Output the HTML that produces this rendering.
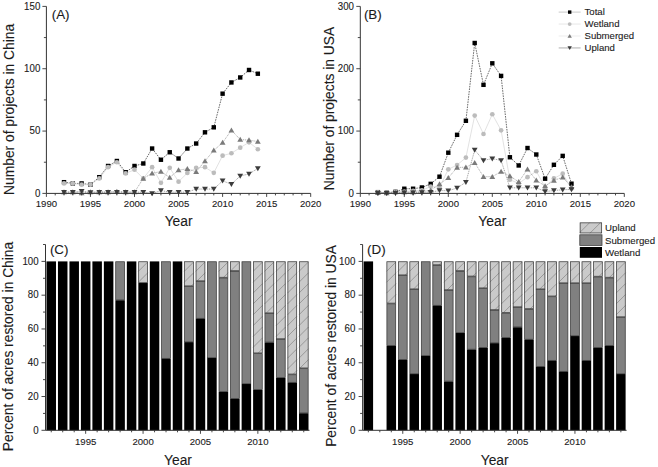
<!DOCTYPE html><html><head><meta charset="utf-8"><style>html,body{margin:0;padding:0;background:#fff;width:658px;height:467px;overflow:hidden}svg{display:block}</style></head><body>
<svg width="658" height="467" viewBox="0 0 658 467" font-family='"Liberation Sans", sans-serif' fill="#1a1a1a"><style>text{stroke:#1a1a1a;stroke-width:0.1px;stroke-linejoin:round}</style>
<rect width="658" height="467" fill="#fff"/>
<polyline points="64.02,182.18 72.83,183.43 81.64,183.43 90.45,184.67 99.26,177.19 108.07,165.97 116.88,160.99 125.69,172.21 134.50,165.97 143.31,163.48 152.12,148.52 160.93,159.74 169.74,152.26 178.55,158.49 187.36,148.52 196.17,143.53 204.98,132.31 213.79,127.33 222.60,93.67 231.41,82.45 240.22,77.46 249.03,69.98 257.84,73.72" fill="none" stroke="#2a2a2a" stroke-width="0.7" stroke-dasharray="1.6 1"/>
<polyline points="64.02,183.43 72.83,183.43 81.64,184.67 90.45,184.67 99.26,178.44 108.07,167.22 116.88,162.23 125.69,173.45 134.50,169.71 143.31,178.44 152.12,167.22 160.93,182.80 169.74,167.84 178.55,181.68 187.36,172.95 196.17,167.84 204.98,167.22 213.79,172.83 222.60,155.63 231.41,153.26 240.22,147.65 249.03,142.29 257.84,149.27" fill="none" stroke="#d6d6d6" stroke-width="0.7" stroke-dasharray="none"/>
<polyline points="64.02,192.15 72.83,192.15 81.64,193.03 90.45,192.15 99.26,192.15 108.07,192.15 116.88,191.53 125.69,192.15 134.50,192.15 143.31,178.44 152.12,173.20 160.93,171.58 169.74,177.44 178.55,170.09 187.36,168.84 196.17,171.71 204.98,160.99 213.79,150.39 222.60,142.66 231.41,130.19 240.22,139.54 249.03,140.17 257.84,141.54" fill="none" stroke="#8c8c8c" stroke-width="0.7" stroke-dasharray="1.1 0.8"/>
<polyline points="64.02,192.15 72.83,192.15 81.64,191.16 90.45,192.40 99.26,192.15 108.07,192.15 116.88,192.15 125.69,192.15 134.50,192.15 143.31,192.15 152.12,193.40 160.93,190.53 169.74,192.15 178.55,192.15 187.36,192.15 196.17,189.04 204.98,189.04 213.79,189.04 222.60,180.81 231.41,184.30 240.22,175.95 249.03,173.95 257.84,168.47" fill="none" stroke="#7a7a7a" stroke-width="0.7" stroke-dasharray="1.1 0.8"/>
<rect x="61.82" y="179.98" width="4.4" height="4.4" fill="#000"/>
<rect x="70.63" y="181.23" width="4.4" height="4.4" fill="#000"/>
<rect x="79.44" y="181.23" width="4.4" height="4.4" fill="#000"/>
<rect x="88.25" y="182.47" width="4.4" height="4.4" fill="#000"/>
<rect x="97.06" y="174.99" width="4.4" height="4.4" fill="#000"/>
<rect x="105.87" y="163.77" width="4.4" height="4.4" fill="#000"/>
<rect x="114.68" y="158.79" width="4.4" height="4.4" fill="#000"/>
<rect x="123.49" y="170.01" width="4.4" height="4.4" fill="#000"/>
<rect x="132.30" y="163.77" width="4.4" height="4.4" fill="#000"/>
<rect x="141.11" y="161.28" width="4.4" height="4.4" fill="#000"/>
<rect x="149.92" y="146.32" width="4.4" height="4.4" fill="#000"/>
<rect x="158.73" y="157.54" width="4.4" height="4.4" fill="#000"/>
<rect x="167.54" y="150.06" width="4.4" height="4.4" fill="#000"/>
<rect x="176.35" y="156.29" width="4.4" height="4.4" fill="#000"/>
<rect x="185.16" y="146.32" width="4.4" height="4.4" fill="#000"/>
<rect x="193.97" y="141.33" width="4.4" height="4.4" fill="#000"/>
<rect x="202.78" y="130.11" width="4.4" height="4.4" fill="#000"/>
<rect x="211.59" y="125.13" width="4.4" height="4.4" fill="#000"/>
<rect x="220.40" y="91.47" width="4.4" height="4.4" fill="#000"/>
<rect x="229.21" y="80.25" width="4.4" height="4.4" fill="#000"/>
<rect x="238.02" y="75.26" width="4.4" height="4.4" fill="#000"/>
<rect x="246.83" y="67.78" width="4.4" height="4.4" fill="#000"/>
<rect x="255.64" y="71.52" width="4.4" height="4.4" fill="#000"/>
<circle cx="64.02" cy="183.43" r="2.35" fill="#bcbcbc"/>
<circle cx="72.83" cy="183.43" r="2.35" fill="#bcbcbc"/>
<circle cx="81.64" cy="184.67" r="2.35" fill="#bcbcbc"/>
<circle cx="90.45" cy="184.67" r="2.35" fill="#bcbcbc"/>
<circle cx="99.26" cy="178.44" r="2.35" fill="#bcbcbc"/>
<circle cx="108.07" cy="167.22" r="2.35" fill="#bcbcbc"/>
<circle cx="116.88" cy="162.23" r="2.35" fill="#bcbcbc"/>
<circle cx="125.69" cy="173.45" r="2.35" fill="#bcbcbc"/>
<circle cx="134.50" cy="169.71" r="2.35" fill="#bcbcbc"/>
<circle cx="143.31" cy="178.44" r="2.35" fill="#bcbcbc"/>
<circle cx="152.12" cy="167.22" r="2.35" fill="#bcbcbc"/>
<circle cx="160.93" cy="182.80" r="2.35" fill="#bcbcbc"/>
<circle cx="169.74" cy="167.84" r="2.35" fill="#bcbcbc"/>
<circle cx="178.55" cy="181.68" r="2.35" fill="#bcbcbc"/>
<circle cx="187.36" cy="172.95" r="2.35" fill="#bcbcbc"/>
<circle cx="196.17" cy="167.84" r="2.35" fill="#bcbcbc"/>
<circle cx="204.98" cy="167.22" r="2.35" fill="#bcbcbc"/>
<circle cx="213.79" cy="172.83" r="2.35" fill="#bcbcbc"/>
<circle cx="222.60" cy="155.63" r="2.35" fill="#bcbcbc"/>
<circle cx="231.41" cy="153.26" r="2.35" fill="#bcbcbc"/>
<circle cx="240.22" cy="147.65" r="2.35" fill="#bcbcbc"/>
<circle cx="249.03" cy="142.29" r="2.35" fill="#bcbcbc"/>
<circle cx="257.84" cy="149.27" r="2.35" fill="#bcbcbc"/>
<path d="M61.12,194.35L66.92,194.35L64.02,189.35Z" fill="#7a7a7a"/>
<path d="M69.93,194.35L75.73,194.35L72.83,189.35Z" fill="#7a7a7a"/>
<path d="M78.74,195.23L84.54,195.23L81.64,190.23Z" fill="#7a7a7a"/>
<path d="M87.55,194.35L93.35,194.35L90.45,189.35Z" fill="#7a7a7a"/>
<path d="M96.36,194.35L102.16,194.35L99.26,189.35Z" fill="#7a7a7a"/>
<path d="M105.17,194.35L110.97,194.35L108.07,189.35Z" fill="#7a7a7a"/>
<path d="M113.98,193.73L119.78,193.73L116.88,188.73Z" fill="#7a7a7a"/>
<path d="M122.79,194.35L128.59,194.35L125.69,189.35Z" fill="#7a7a7a"/>
<path d="M131.60,194.35L137.40,194.35L134.50,189.35Z" fill="#7a7a7a"/>
<path d="M140.41,180.64L146.21,180.64L143.31,175.64Z" fill="#7a7a7a"/>
<path d="M149.22,175.40L155.02,175.40L152.12,170.40Z" fill="#7a7a7a"/>
<path d="M158.03,173.78L163.83,173.78L160.93,168.78Z" fill="#7a7a7a"/>
<path d="M166.84,179.64L172.64,179.64L169.74,174.64Z" fill="#7a7a7a"/>
<path d="M175.65,172.29L181.45,172.29L178.55,167.29Z" fill="#7a7a7a"/>
<path d="M184.46,171.04L190.26,171.04L187.36,166.04Z" fill="#7a7a7a"/>
<path d="M193.27,173.91L199.07,173.91L196.17,168.91Z" fill="#7a7a7a"/>
<path d="M202.08,163.19L207.88,163.19L204.98,158.19Z" fill="#7a7a7a"/>
<path d="M210.89,152.59L216.69,152.59L213.79,147.59Z" fill="#7a7a7a"/>
<path d="M219.70,144.86L225.50,144.86L222.60,139.86Z" fill="#7a7a7a"/>
<path d="M228.51,132.39L234.31,132.39L231.41,127.39Z" fill="#7a7a7a"/>
<path d="M237.32,141.74L243.12,141.74L240.22,136.74Z" fill="#7a7a7a"/>
<path d="M246.13,142.37L251.93,142.37L249.03,137.37Z" fill="#7a7a7a"/>
<path d="M254.94,143.74L260.74,143.74L257.84,138.74Z" fill="#7a7a7a"/>
<path d="M61.12,189.95L66.92,189.95L64.02,194.95Z" fill="#3c3c3c"/>
<path d="M69.93,189.95L75.73,189.95L72.83,194.95Z" fill="#3c3c3c"/>
<path d="M78.74,188.96L84.54,188.96L81.64,193.96Z" fill="#3c3c3c"/>
<path d="M87.55,190.20L93.35,190.20L90.45,195.20Z" fill="#3c3c3c"/>
<path d="M96.36,189.95L102.16,189.95L99.26,194.95Z" fill="#3c3c3c"/>
<path d="M105.17,189.95L110.97,189.95L108.07,194.95Z" fill="#3c3c3c"/>
<path d="M113.98,189.95L119.78,189.95L116.88,194.95Z" fill="#3c3c3c"/>
<path d="M122.79,189.95L128.59,189.95L125.69,194.95Z" fill="#3c3c3c"/>
<path d="M131.60,189.95L137.40,189.95L134.50,194.95Z" fill="#3c3c3c"/>
<path d="M140.41,189.95L146.21,189.95L143.31,194.95Z" fill="#3c3c3c"/>
<path d="M149.22,191.20L155.02,191.20L152.12,196.20Z" fill="#3c3c3c"/>
<path d="M158.03,188.33L163.83,188.33L160.93,193.33Z" fill="#3c3c3c"/>
<path d="M166.84,189.95L172.64,189.95L169.74,194.95Z" fill="#3c3c3c"/>
<path d="M175.65,189.95L181.45,189.95L178.55,194.95Z" fill="#3c3c3c"/>
<path d="M184.46,189.95L190.26,189.95L187.36,194.95Z" fill="#3c3c3c"/>
<path d="M193.27,186.84L199.07,186.84L196.17,191.84Z" fill="#3c3c3c"/>
<path d="M202.08,186.84L207.88,186.84L204.98,191.84Z" fill="#3c3c3c"/>
<path d="M210.89,186.84L216.69,186.84L213.79,191.84Z" fill="#3c3c3c"/>
<path d="M219.70,178.61L225.50,178.61L222.60,183.61Z" fill="#3c3c3c"/>
<path d="M228.51,182.10L234.31,182.10L231.41,187.10Z" fill="#3c3c3c"/>
<path d="M237.32,173.75L243.12,173.75L240.22,178.75Z" fill="#3c3c3c"/>
<path d="M246.13,171.75L251.93,171.75L249.03,176.75Z" fill="#3c3c3c"/>
<path d="M254.94,166.27L260.74,166.27L257.84,171.27Z" fill="#3c3c3c"/>
<path d="M46.4,6.4V193.4H310.7" fill="none" stroke="#333" stroke-width="1"/>
<line x1="42.4" y1="193.40" x2="46.4" y2="193.40" stroke="#333" stroke-width="0.9"/>
<text transform="translate(40.3,196.60) scale(1,1.06)" text-anchor="end" font-size="9.7">0</text>
<line x1="43.9" y1="162.23" x2="46.4" y2="162.23" stroke="#333" stroke-width="0.9"/>
<line x1="42.4" y1="131.07" x2="46.4" y2="131.07" stroke="#333" stroke-width="0.9"/>
<text transform="translate(40.3,134.27) scale(1,1.06)" text-anchor="end" font-size="9.7">50</text>
<line x1="43.9" y1="99.90" x2="46.4" y2="99.90" stroke="#333" stroke-width="0.9"/>
<line x1="42.4" y1="68.73" x2="46.4" y2="68.73" stroke="#333" stroke-width="0.9"/>
<text transform="translate(40.3,71.93) scale(1,1.06)" text-anchor="end" font-size="9.7">100</text>
<line x1="43.9" y1="37.57" x2="46.4" y2="37.57" stroke="#333" stroke-width="0.9"/>
<line x1="42.4" y1="6.40" x2="46.4" y2="6.40" stroke="#333" stroke-width="0.9"/>
<text transform="translate(40.3,9.60) scale(1,1.06)" text-anchor="end" font-size="9.7">150</text>
<line x1="46.40" y1="193.4" x2="46.40" y2="196.9" stroke="#333" stroke-width="0.9"/>
<text transform="translate(46.40,207.4) scale(1,1.0)" text-anchor="middle" font-size="9.6">1990</text>
<line x1="55.21" y1="193.4" x2="55.21" y2="195.4" stroke="#333" stroke-width="0.9"/>
<line x1="64.02" y1="193.4" x2="64.02" y2="195.4" stroke="#333" stroke-width="0.9"/>
<line x1="72.83" y1="193.4" x2="72.83" y2="195.4" stroke="#333" stroke-width="0.9"/>
<line x1="81.64" y1="193.4" x2="81.64" y2="195.4" stroke="#333" stroke-width="0.9"/>
<line x1="90.45" y1="193.4" x2="90.45" y2="196.9" stroke="#333" stroke-width="0.9"/>
<text transform="translate(90.45,207.4) scale(1,1.0)" text-anchor="middle" font-size="9.6">1995</text>
<line x1="99.26" y1="193.4" x2="99.26" y2="195.4" stroke="#333" stroke-width="0.9"/>
<line x1="108.07" y1="193.4" x2="108.07" y2="195.4" stroke="#333" stroke-width="0.9"/>
<line x1="116.88" y1="193.4" x2="116.88" y2="195.4" stroke="#333" stroke-width="0.9"/>
<line x1="125.69" y1="193.4" x2="125.69" y2="195.4" stroke="#333" stroke-width="0.9"/>
<line x1="134.50" y1="193.4" x2="134.50" y2="196.9" stroke="#333" stroke-width="0.9"/>
<text transform="translate(134.50,207.4) scale(1,1.0)" text-anchor="middle" font-size="9.6">2000</text>
<line x1="143.31" y1="193.4" x2="143.31" y2="195.4" stroke="#333" stroke-width="0.9"/>
<line x1="152.12" y1="193.4" x2="152.12" y2="195.4" stroke="#333" stroke-width="0.9"/>
<line x1="160.93" y1="193.4" x2="160.93" y2="195.4" stroke="#333" stroke-width="0.9"/>
<line x1="169.74" y1="193.4" x2="169.74" y2="195.4" stroke="#333" stroke-width="0.9"/>
<line x1="178.55" y1="193.4" x2="178.55" y2="196.9" stroke="#333" stroke-width="0.9"/>
<text transform="translate(178.55,207.4) scale(1,1.0)" text-anchor="middle" font-size="9.6">2005</text>
<line x1="187.36" y1="193.4" x2="187.36" y2="195.4" stroke="#333" stroke-width="0.9"/>
<line x1="196.17" y1="193.4" x2="196.17" y2="195.4" stroke="#333" stroke-width="0.9"/>
<line x1="204.98" y1="193.4" x2="204.98" y2="195.4" stroke="#333" stroke-width="0.9"/>
<line x1="213.79" y1="193.4" x2="213.79" y2="195.4" stroke="#333" stroke-width="0.9"/>
<line x1="222.60" y1="193.4" x2="222.60" y2="196.9" stroke="#333" stroke-width="0.9"/>
<text transform="translate(222.60,207.4) scale(1,1.0)" text-anchor="middle" font-size="9.6">2010</text>
<line x1="231.41" y1="193.4" x2="231.41" y2="195.4" stroke="#333" stroke-width="0.9"/>
<line x1="240.22" y1="193.4" x2="240.22" y2="195.4" stroke="#333" stroke-width="0.9"/>
<line x1="249.03" y1="193.4" x2="249.03" y2="195.4" stroke="#333" stroke-width="0.9"/>
<line x1="257.84" y1="193.4" x2="257.84" y2="195.4" stroke="#333" stroke-width="0.9"/>
<line x1="266.65" y1="193.4" x2="266.65" y2="196.9" stroke="#333" stroke-width="0.9"/>
<text transform="translate(266.65,207.4) scale(1,1.0)" text-anchor="middle" font-size="9.6">2015</text>
<line x1="275.46" y1="193.4" x2="275.46" y2="195.4" stroke="#333" stroke-width="0.9"/>
<line x1="284.27" y1="193.4" x2="284.27" y2="195.4" stroke="#333" stroke-width="0.9"/>
<line x1="293.08" y1="193.4" x2="293.08" y2="195.4" stroke="#333" stroke-width="0.9"/>
<line x1="301.89" y1="193.4" x2="301.89" y2="195.4" stroke="#333" stroke-width="0.9"/>
<line x1="310.70" y1="193.4" x2="310.70" y2="196.9" stroke="#333" stroke-width="0.9"/>
<text transform="translate(310.70,207.4) scale(1,1.0)" text-anchor="middle" font-size="9.6">2020</text>
<text x="178.6" y="226" text-anchor="middle" font-size="13.8">Year</text>
<text x="51.699999999999996" y="19" font-size="13.4">(A)</text>
<text transform="translate(14.1,109.4) rotate(-90)" text-anchor="middle" font-size="13.8">Number of projects in China</text>
<polyline points="377.90,192.15 386.70,192.78 395.50,191.84 404.30,188.72 413.10,188.72 421.90,187.48 430.70,183.86 439.50,176.69 448.30,152.70 457.10,134.81 465.90,120.78 474.70,42.99 483.50,84.82 492.30,63.31 501.10,75.90 509.90,157.25 518.70,165.47 527.50,148.02 536.30,154.50 545.10,178.69 553.90,164.79 562.70,155.88 571.50,183.68" fill="none" stroke="#2a2a2a" stroke-width="0.7" stroke-dasharray="1.6 1"/>
<polyline points="377.90,192.28 386.70,192.78 395.50,192.03 404.30,191.53 413.10,190.91 421.90,190.28 430.70,186.54 439.50,187.42 448.30,169.28 457.10,165.04 465.90,157.62 474.70,115.61 483.50,134.00 492.30,114.24 501.10,130.32 509.90,179.69 518.70,183.43 527.50,177.19 536.30,171.27 545.10,187.17 553.90,178.44 562.70,173.70 571.50,188.41" fill="none" stroke="#d6d6d6" stroke-width="0.7" stroke-dasharray="none"/>
<polyline points="377.90,192.78 386.70,193.09 395.50,192.15 404.30,192.15 413.10,192.15 421.90,191.53 430.70,190.28 439.50,184.05 448.30,177.82 457.10,167.47 465.90,167.22 474.70,162.73 483.50,176.69 492.30,176.69 501.10,171.58 509.90,176.01 518.70,181.87 527.50,169.21 536.30,180.31 545.10,185.98 553.90,180.50 562.70,177.19 571.50,187.17" fill="none" stroke="#8c8c8c" stroke-width="0.7" stroke-dasharray="1.1 0.8"/>
<polyline points="377.90,193.09 386.70,193.21 395.50,193.09 404.30,192.78 413.10,192.78 421.90,192.47 430.70,192.15 439.50,190.53 448.30,190.78 457.10,187.98 465.90,182.18 474.70,150.02 483.50,160.36 492.30,158.62 501.10,160.36 509.90,187.79 518.70,187.79 527.50,187.79 536.30,187.79 545.10,191.53 553.90,190.53 562.70,189.78 571.50,189.41" fill="none" stroke="#7a7a7a" stroke-width="0.7" stroke-dasharray="1.1 0.8"/>
<rect x="375.70" y="189.95" width="4.4" height="4.4" fill="#000"/>
<rect x="384.50" y="190.58" width="4.4" height="4.4" fill="#000"/>
<rect x="393.30" y="189.64" width="4.4" height="4.4" fill="#000"/>
<rect x="402.10" y="186.53" width="4.4" height="4.4" fill="#000"/>
<rect x="410.90" y="186.53" width="4.4" height="4.4" fill="#000"/>
<rect x="419.70" y="185.28" width="4.4" height="4.4" fill="#000"/>
<rect x="428.50" y="181.66" width="4.4" height="4.4" fill="#000"/>
<rect x="437.30" y="174.49" width="4.4" height="4.4" fill="#000"/>
<rect x="446.10" y="150.50" width="4.4" height="4.4" fill="#000"/>
<rect x="454.90" y="132.61" width="4.4" height="4.4" fill="#000"/>
<rect x="463.70" y="118.58" width="4.4" height="4.4" fill="#000"/>
<rect x="472.50" y="40.79" width="4.4" height="4.4" fill="#000"/>
<rect x="481.30" y="82.62" width="4.4" height="4.4" fill="#000"/>
<rect x="490.10" y="61.11" width="4.4" height="4.4" fill="#000"/>
<rect x="498.90" y="73.70" width="4.4" height="4.4" fill="#000"/>
<rect x="507.70" y="155.05" width="4.4" height="4.4" fill="#000"/>
<rect x="516.50" y="163.27" width="4.4" height="4.4" fill="#000"/>
<rect x="525.30" y="145.82" width="4.4" height="4.4" fill="#000"/>
<rect x="534.10" y="152.30" width="4.4" height="4.4" fill="#000"/>
<rect x="542.90" y="176.49" width="4.4" height="4.4" fill="#000"/>
<rect x="551.70" y="162.59" width="4.4" height="4.4" fill="#000"/>
<rect x="560.50" y="153.68" width="4.4" height="4.4" fill="#000"/>
<rect x="569.30" y="181.48" width="4.4" height="4.4" fill="#000"/>
<circle cx="377.90" cy="192.28" r="2.35" fill="#bcbcbc"/>
<circle cx="386.70" cy="192.78" r="2.35" fill="#bcbcbc"/>
<circle cx="395.50" cy="192.03" r="2.35" fill="#bcbcbc"/>
<circle cx="404.30" cy="191.53" r="2.35" fill="#bcbcbc"/>
<circle cx="413.10" cy="190.91" r="2.35" fill="#bcbcbc"/>
<circle cx="421.90" cy="190.28" r="2.35" fill="#bcbcbc"/>
<circle cx="430.70" cy="186.54" r="2.35" fill="#bcbcbc"/>
<circle cx="439.50" cy="187.42" r="2.35" fill="#bcbcbc"/>
<circle cx="448.30" cy="169.28" r="2.35" fill="#bcbcbc"/>
<circle cx="457.10" cy="165.04" r="2.35" fill="#bcbcbc"/>
<circle cx="465.90" cy="157.62" r="2.35" fill="#bcbcbc"/>
<circle cx="474.70" cy="115.61" r="2.35" fill="#bcbcbc"/>
<circle cx="483.50" cy="134.00" r="2.35" fill="#bcbcbc"/>
<circle cx="492.30" cy="114.24" r="2.35" fill="#bcbcbc"/>
<circle cx="501.10" cy="130.32" r="2.35" fill="#bcbcbc"/>
<circle cx="509.90" cy="179.69" r="2.35" fill="#bcbcbc"/>
<circle cx="518.70" cy="183.43" r="2.35" fill="#bcbcbc"/>
<circle cx="527.50" cy="177.19" r="2.35" fill="#bcbcbc"/>
<circle cx="536.30" cy="171.27" r="2.35" fill="#bcbcbc"/>
<circle cx="545.10" cy="187.17" r="2.35" fill="#bcbcbc"/>
<circle cx="553.90" cy="178.44" r="2.35" fill="#bcbcbc"/>
<circle cx="562.70" cy="173.70" r="2.35" fill="#bcbcbc"/>
<circle cx="571.50" cy="188.41" r="2.35" fill="#bcbcbc"/>
<path d="M375.00,194.98L380.80,194.98L377.90,189.98Z" fill="#7a7a7a"/>
<path d="M383.80,195.29L389.60,195.29L386.70,190.29Z" fill="#7a7a7a"/>
<path d="M392.60,194.35L398.40,194.35L395.50,189.35Z" fill="#7a7a7a"/>
<path d="M401.40,194.35L407.20,194.35L404.30,189.35Z" fill="#7a7a7a"/>
<path d="M410.20,194.35L416.00,194.35L413.10,189.35Z" fill="#7a7a7a"/>
<path d="M419.00,193.73L424.80,193.73L421.90,188.73Z" fill="#7a7a7a"/>
<path d="M427.80,192.48L433.60,192.48L430.70,187.48Z" fill="#7a7a7a"/>
<path d="M436.60,186.25L442.40,186.25L439.50,181.25Z" fill="#7a7a7a"/>
<path d="M445.40,180.02L451.20,180.02L448.30,175.02Z" fill="#7a7a7a"/>
<path d="M454.20,169.67L460.00,169.67L457.10,164.67Z" fill="#7a7a7a"/>
<path d="M463.00,169.42L468.80,169.42L465.90,164.42Z" fill="#7a7a7a"/>
<path d="M471.80,164.93L477.60,164.93L474.70,159.93Z" fill="#7a7a7a"/>
<path d="M480.60,178.89L486.40,178.89L483.50,173.89Z" fill="#7a7a7a"/>
<path d="M489.40,178.89L495.20,178.89L492.30,173.89Z" fill="#7a7a7a"/>
<path d="M498.20,173.78L504.00,173.78L501.10,168.78Z" fill="#7a7a7a"/>
<path d="M507.00,178.21L512.80,178.21L509.90,173.21Z" fill="#7a7a7a"/>
<path d="M515.80,184.07L521.60,184.07L518.70,179.07Z" fill="#7a7a7a"/>
<path d="M524.60,171.41L530.40,171.41L527.50,166.41Z" fill="#7a7a7a"/>
<path d="M533.40,182.51L539.20,182.51L536.30,177.51Z" fill="#7a7a7a"/>
<path d="M542.20,188.18L548.00,188.18L545.10,183.18Z" fill="#7a7a7a"/>
<path d="M551.00,182.70L556.80,182.70L553.90,177.70Z" fill="#7a7a7a"/>
<path d="M559.80,179.39L565.60,179.39L562.70,174.39Z" fill="#7a7a7a"/>
<path d="M568.60,189.37L574.40,189.37L571.50,184.37Z" fill="#7a7a7a"/>
<path d="M375.00,190.89L380.80,190.89L377.90,195.89Z" fill="#3c3c3c"/>
<path d="M383.80,191.01L389.60,191.01L386.70,196.01Z" fill="#3c3c3c"/>
<path d="M392.60,190.89L398.40,190.89L395.50,195.89Z" fill="#3c3c3c"/>
<path d="M401.40,190.58L407.20,190.58L404.30,195.58Z" fill="#3c3c3c"/>
<path d="M410.20,190.58L416.00,190.58L413.10,195.58Z" fill="#3c3c3c"/>
<path d="M419.00,190.27L424.80,190.27L421.90,195.27Z" fill="#3c3c3c"/>
<path d="M427.80,189.95L433.60,189.95L430.70,194.95Z" fill="#3c3c3c"/>
<path d="M436.60,188.33L442.40,188.33L439.50,193.33Z" fill="#3c3c3c"/>
<path d="M445.40,188.58L451.20,188.58L448.30,193.58Z" fill="#3c3c3c"/>
<path d="M454.20,185.78L460.00,185.78L457.10,190.78Z" fill="#3c3c3c"/>
<path d="M463.00,179.98L468.80,179.98L465.90,184.98Z" fill="#3c3c3c"/>
<path d="M471.80,147.82L477.60,147.82L474.70,152.82Z" fill="#3c3c3c"/>
<path d="M480.60,158.16L486.40,158.16L483.50,163.16Z" fill="#3c3c3c"/>
<path d="M489.40,156.42L495.20,156.42L492.30,161.42Z" fill="#3c3c3c"/>
<path d="M498.20,158.16L504.00,158.16L501.10,163.16Z" fill="#3c3c3c"/>
<path d="M507.00,185.59L512.80,185.59L509.90,190.59Z" fill="#3c3c3c"/>
<path d="M515.80,185.59L521.60,185.59L518.70,190.59Z" fill="#3c3c3c"/>
<path d="M524.60,185.59L530.40,185.59L527.50,190.59Z" fill="#3c3c3c"/>
<path d="M533.40,185.59L539.20,185.59L536.30,190.59Z" fill="#3c3c3c"/>
<path d="M542.20,189.33L548.00,189.33L545.10,194.33Z" fill="#3c3c3c"/>
<path d="M551.00,188.33L556.80,188.33L553.90,193.33Z" fill="#3c3c3c"/>
<path d="M559.80,187.58L565.60,187.58L562.70,192.58Z" fill="#3c3c3c"/>
<path d="M568.60,187.21L574.40,187.21L571.50,192.21Z" fill="#3c3c3c"/>
<path d="M360.3,6.4V193.4H624.3" fill="none" stroke="#333" stroke-width="1"/>
<line x1="356.3" y1="193.40" x2="360.3" y2="193.40" stroke="#333" stroke-width="0.9"/>
<text transform="translate(354.0,196.60) scale(1,1.06)" text-anchor="end" font-size="9.7">0</text>
<line x1="357.8" y1="162.23" x2="360.3" y2="162.23" stroke="#333" stroke-width="0.9"/>
<line x1="356.3" y1="131.07" x2="360.3" y2="131.07" stroke="#333" stroke-width="0.9"/>
<text transform="translate(354.0,134.27) scale(1,1.06)" text-anchor="end" font-size="9.7">100</text>
<line x1="357.8" y1="99.90" x2="360.3" y2="99.90" stroke="#333" stroke-width="0.9"/>
<line x1="356.3" y1="68.73" x2="360.3" y2="68.73" stroke="#333" stroke-width="0.9"/>
<text transform="translate(354.0,71.93) scale(1,1.06)" text-anchor="end" font-size="9.7">200</text>
<line x1="357.8" y1="37.57" x2="360.3" y2="37.57" stroke="#333" stroke-width="0.9"/>
<line x1="356.3" y1="6.40" x2="360.3" y2="6.40" stroke="#333" stroke-width="0.9"/>
<text transform="translate(354.0,9.60) scale(1,1.06)" text-anchor="end" font-size="9.7">300</text>
<line x1="360.30" y1="193.4" x2="360.30" y2="196.9" stroke="#333" stroke-width="0.9"/>
<text transform="translate(360.30,207.4) scale(1,1.0)" text-anchor="middle" font-size="9.6">1990</text>
<line x1="369.10" y1="193.4" x2="369.10" y2="195.4" stroke="#333" stroke-width="0.9"/>
<line x1="377.90" y1="193.4" x2="377.90" y2="195.4" stroke="#333" stroke-width="0.9"/>
<line x1="386.70" y1="193.4" x2="386.70" y2="195.4" stroke="#333" stroke-width="0.9"/>
<line x1="395.50" y1="193.4" x2="395.50" y2="195.4" stroke="#333" stroke-width="0.9"/>
<line x1="404.30" y1="193.4" x2="404.30" y2="196.9" stroke="#333" stroke-width="0.9"/>
<text transform="translate(404.30,207.4) scale(1,1.0)" text-anchor="middle" font-size="9.6">1995</text>
<line x1="413.10" y1="193.4" x2="413.10" y2="195.4" stroke="#333" stroke-width="0.9"/>
<line x1="421.90" y1="193.4" x2="421.90" y2="195.4" stroke="#333" stroke-width="0.9"/>
<line x1="430.70" y1="193.4" x2="430.70" y2="195.4" stroke="#333" stroke-width="0.9"/>
<line x1="439.50" y1="193.4" x2="439.50" y2="195.4" stroke="#333" stroke-width="0.9"/>
<line x1="448.30" y1="193.4" x2="448.30" y2="196.9" stroke="#333" stroke-width="0.9"/>
<text transform="translate(448.30,207.4) scale(1,1.0)" text-anchor="middle" font-size="9.6">2000</text>
<line x1="457.10" y1="193.4" x2="457.10" y2="195.4" stroke="#333" stroke-width="0.9"/>
<line x1="465.90" y1="193.4" x2="465.90" y2="195.4" stroke="#333" stroke-width="0.9"/>
<line x1="474.70" y1="193.4" x2="474.70" y2="195.4" stroke="#333" stroke-width="0.9"/>
<line x1="483.50" y1="193.4" x2="483.50" y2="195.4" stroke="#333" stroke-width="0.9"/>
<line x1="492.30" y1="193.4" x2="492.30" y2="196.9" stroke="#333" stroke-width="0.9"/>
<text transform="translate(492.30,207.4) scale(1,1.0)" text-anchor="middle" font-size="9.6">2005</text>
<line x1="501.10" y1="193.4" x2="501.10" y2="195.4" stroke="#333" stroke-width="0.9"/>
<line x1="509.90" y1="193.4" x2="509.90" y2="195.4" stroke="#333" stroke-width="0.9"/>
<line x1="518.70" y1="193.4" x2="518.70" y2="195.4" stroke="#333" stroke-width="0.9"/>
<line x1="527.50" y1="193.4" x2="527.50" y2="195.4" stroke="#333" stroke-width="0.9"/>
<line x1="536.30" y1="193.4" x2="536.30" y2="196.9" stroke="#333" stroke-width="0.9"/>
<text transform="translate(536.30,207.4) scale(1,1.0)" text-anchor="middle" font-size="9.6">2010</text>
<line x1="545.10" y1="193.4" x2="545.10" y2="195.4" stroke="#333" stroke-width="0.9"/>
<line x1="553.90" y1="193.4" x2="553.90" y2="195.4" stroke="#333" stroke-width="0.9"/>
<line x1="562.70" y1="193.4" x2="562.70" y2="195.4" stroke="#333" stroke-width="0.9"/>
<line x1="571.50" y1="193.4" x2="571.50" y2="195.4" stroke="#333" stroke-width="0.9"/>
<line x1="580.30" y1="193.4" x2="580.30" y2="196.9" stroke="#333" stroke-width="0.9"/>
<text transform="translate(580.30,207.4) scale(1,1.0)" text-anchor="middle" font-size="9.6">2015</text>
<line x1="589.10" y1="193.4" x2="589.10" y2="195.4" stroke="#333" stroke-width="0.9"/>
<line x1="597.90" y1="193.4" x2="597.90" y2="195.4" stroke="#333" stroke-width="0.9"/>
<line x1="606.70" y1="193.4" x2="606.70" y2="195.4" stroke="#333" stroke-width="0.9"/>
<line x1="615.50" y1="193.4" x2="615.50" y2="195.4" stroke="#333" stroke-width="0.9"/>
<line x1="624.30" y1="193.4" x2="624.30" y2="196.9" stroke="#333" stroke-width="0.9"/>
<text transform="translate(624.30,207.4) scale(1,1.0)" text-anchor="middle" font-size="9.6">2020</text>
<text x="492.3" y="226" text-anchor="middle" font-size="13.8">Year</text>
<text x="363.90000000000003" y="19" font-size="13.4">(B)</text>
<text transform="translate(333.7,108.5) rotate(-90)" text-anchor="middle" font-size="13.8">Number of projects in USA</text>
<line x1="558.7" y1="12.10" x2="580.6" y2="12.10" stroke="#bbb" stroke-width="0.8"/>
<rect x="568.0" y="10.40" width="3.4" height="3.4" fill="#000"/>
<text x="584.5" y="15.00" font-size="9.6">Total</text>
<line x1="558.7" y1="24.05" x2="580.6" y2="24.05" stroke="#e0e0e0" stroke-width="0.8"/>
<circle cx="569.7" cy="24.05" r="1.9" fill="#bdbdbd"/>
<text x="584.5" y="26.95" font-size="9.6">Wetland</text>
<line x1="558.7" y1="36.00" x2="580.6" y2="36.00" stroke="#e8e8e8" stroke-width="0.8"/>
<path d="M567.5,37.70L571.9000000000001,37.70L569.7,33.90Z" fill="#7d7d7d"/>
<text x="584.5" y="38.90" font-size="9.6">Submerged</text>
<line x1="558.7" y1="47.95" x2="580.6" y2="47.95" stroke="#999" stroke-width="0.8"/>
<path d="M567.5,46.25L571.9000000000001,46.25L569.7,50.05Z" fill="#3c3c3c"/>
<text x="584.5" y="50.85" font-size="9.6">Upland</text>
<rect x="46.49" y="261.40" width="9.5" height="168.90" fill="#000"/>
<rect x="57.97" y="261.40" width="9.5" height="168.90" fill="#000"/>
<rect x="69.45" y="261.40" width="9.5" height="168.90" fill="#000"/>
<rect x="80.92" y="261.40" width="9.5" height="168.90" fill="#000"/>
<rect x="92.40" y="261.40" width="9.5" height="168.90" fill="#000"/>
<rect x="103.88" y="261.40" width="9.5" height="168.90" fill="#000"/>
<rect x="115.71" y="261.75" width="8.80" height="38.15" fill="#808080" stroke="#383838" stroke-width="0.75"/>
<rect x="115.36" y="300.25" width="9.5" height="130.05" fill="#000"/>
<rect x="126.84" y="261.40" width="9.5" height="168.90" fill="#000"/>
<rect x="138.32" y="261.40" width="9.50" height="21.62" fill="#cacaca"/><path d="M138.32,271.40L147.82,261.90M138.32,282.25L147.82,272.75" stroke="#666" stroke-width="0.5" fill="none"/><rect x="138.67" y="261.75" width="8.80" height="20.92" fill="none" stroke="#404040" stroke-width="0.75"/>
<rect x="138.32" y="283.02" width="9.5" height="147.28" fill="#000"/>
<rect x="149.79" y="261.40" width="9.5" height="168.90" fill="#000"/>
<rect x="161.62" y="261.75" width="8.80" height="96.59" fill="#808080" stroke="#383838" stroke-width="0.75"/>
<rect x="161.27" y="358.69" width="9.5" height="71.61" fill="#000"/>
<rect x="172.75" y="261.40" width="9.5" height="168.90" fill="#000"/>
<rect x="184.23" y="261.40" width="9.50" height="24.83" fill="#cacaca"/><path d="M184.23,271.40L193.73,261.90M184.23,282.25L193.73,272.75M191.10,286.23L193.73,283.60" stroke="#666" stroke-width="0.5" fill="none"/><rect x="184.58" y="261.75" width="8.80" height="24.13" fill="none" stroke="#404040" stroke-width="0.75"/>
<rect x="184.58" y="286.58" width="8.80" height="55.21" fill="#808080" stroke="#383838" stroke-width="0.75"/>
<rect x="184.23" y="342.13" width="9.5" height="88.17" fill="#000"/>
<rect x="195.71" y="261.40" width="9.50" height="19.76" fill="#cacaca"/><path d="M195.71,271.40L205.21,261.90M196.80,281.16L205.21,272.75" stroke="#666" stroke-width="0.5" fill="none"/><rect x="196.06" y="261.75" width="8.80" height="19.06" fill="none" stroke="#404040" stroke-width="0.75"/>
<rect x="196.06" y="281.51" width="8.80" height="36.80" fill="#808080" stroke="#383838" stroke-width="0.75"/>
<rect x="195.71" y="318.66" width="9.5" height="111.64" fill="#000"/>
<rect x="207.53" y="261.75" width="8.80" height="95.91" fill="#808080" stroke="#383838" stroke-width="0.75"/>
<rect x="207.18" y="358.01" width="9.5" height="72.29" fill="#000"/>
<rect x="218.66" y="261.40" width="9.50" height="16.21" fill="#cacaca"/><path d="M218.66,271.40L228.16,261.90M223.30,277.61L228.16,272.75" stroke="#666" stroke-width="0.5" fill="none"/><rect x="219.01" y="261.75" width="8.80" height="15.51" fill="none" stroke="#404040" stroke-width="0.75"/>
<rect x="219.01" y="277.96" width="8.80" height="113.65" fill="#808080" stroke="#383838" stroke-width="0.75"/>
<rect x="218.66" y="391.96" width="9.5" height="38.34" fill="#000"/>
<rect x="230.14" y="261.40" width="9.50" height="9.63" fill="#cacaca"/><path d="M230.51,271.03L239.64,261.90" stroke="#666" stroke-width="0.5" fill="none"/><rect x="230.49" y="261.75" width="8.80" height="8.93" fill="none" stroke="#404040" stroke-width="0.75"/>
<rect x="230.49" y="271.38" width="8.80" height="127.16" fill="#808080" stroke="#383838" stroke-width="0.75"/>
<rect x="230.14" y="398.88" width="9.5" height="31.42" fill="#000"/>
<rect x="241.97" y="261.75" width="8.80" height="121.92" fill="#808080" stroke="#383838" stroke-width="0.75"/>
<rect x="241.62" y="384.02" width="9.5" height="46.28" fill="#000"/>
<rect x="253.10" y="261.40" width="9.50" height="91.88" fill="#cacaca"/><path d="M253.10,271.40L262.60,261.90M253.10,282.25L262.60,272.75M253.10,293.10L262.60,283.60M253.10,303.95L262.60,294.45M253.10,314.80L262.60,305.30M253.10,325.65L262.60,316.15M253.10,336.50L262.60,327.00M253.10,347.35L262.60,337.85M258.02,353.28L262.60,348.70" stroke="#666" stroke-width="0.5" fill="none"/><rect x="253.45" y="261.75" width="8.80" height="91.18" fill="none" stroke="#404040" stroke-width="0.75"/>
<rect x="253.45" y="353.63" width="8.80" height="35.95" fill="#808080" stroke="#383838" stroke-width="0.75"/>
<rect x="253.10" y="389.93" width="9.5" height="40.37" fill="#000"/>
<rect x="264.58" y="261.40" width="9.50" height="51.85" fill="#cacaca"/><path d="M264.58,271.40L274.08,261.90M264.58,282.25L274.08,272.75M264.58,293.10L274.08,283.60M264.58,303.95L274.08,294.45M266.12,313.25L274.08,305.30" stroke="#666" stroke-width="0.5" fill="none"/><rect x="264.93" y="261.75" width="8.80" height="51.15" fill="none" stroke="#404040" stroke-width="0.75"/>
<rect x="264.93" y="313.60" width="8.80" height="28.52" fill="#808080" stroke="#383838" stroke-width="0.75"/>
<rect x="264.58" y="342.47" width="9.5" height="87.83" fill="#000"/>
<rect x="276.05" y="261.40" width="9.50" height="77.69" fill="#cacaca"/><path d="M276.05,271.40L285.55,261.90M276.05,282.25L285.55,272.75M276.05,293.10L285.55,283.60M276.05,303.95L285.55,294.45M276.05,314.80L285.55,305.30M276.05,325.65L285.55,316.15M276.05,336.50L285.55,327.00M284.31,339.09L285.55,337.85" stroke="#666" stroke-width="0.5" fill="none"/><rect x="276.40" y="261.75" width="8.80" height="76.99" fill="none" stroke="#404040" stroke-width="0.75"/>
<rect x="276.40" y="339.44" width="8.80" height="38.15" fill="#808080" stroke="#383838" stroke-width="0.75"/>
<rect x="276.05" y="377.94" width="9.5" height="52.36" fill="#000"/>
<rect x="287.53" y="261.40" width="9.50" height="112.99" fill="#cacaca"/><path d="M287.53,271.40L297.03,261.90M287.53,282.25L297.03,272.75M287.53,293.10L297.03,283.60M287.53,303.95L297.03,294.45M287.53,314.80L297.03,305.30M287.53,325.65L297.03,316.15M287.53,336.50L297.03,327.00M287.53,347.35L297.03,337.85M287.53,358.20L297.03,348.70M287.53,369.05L297.03,359.55M293.04,374.39L297.03,370.40" stroke="#666" stroke-width="0.5" fill="none"/><rect x="287.88" y="261.75" width="8.80" height="112.29" fill="none" stroke="#404040" stroke-width="0.75"/>
<rect x="287.88" y="374.74" width="8.80" height="7.58" fill="#808080" stroke="#383838" stroke-width="0.75"/>
<rect x="287.53" y="382.67" width="9.5" height="47.63" fill="#000"/>
<rect x="299.01" y="261.40" width="9.50" height="106.91" fill="#cacaca"/><path d="M299.01,271.40L308.51,261.90M299.01,282.25L308.51,272.75M299.01,293.10L308.51,283.60M299.01,303.95L308.51,294.45M299.01,314.80L308.51,305.30M299.01,325.65L308.51,316.15M299.01,336.50L308.51,327.00M299.01,347.35L308.51,337.85M299.01,358.20L308.51,348.70M299.75,368.31L308.51,359.55" stroke="#666" stroke-width="0.5" fill="none"/><rect x="299.36" y="261.75" width="8.80" height="106.21" fill="none" stroke="#404040" stroke-width="0.75"/>
<rect x="299.36" y="368.66" width="8.80" height="44.23" fill="#808080" stroke="#383838" stroke-width="0.75"/>
<rect x="299.01" y="413.24" width="9.5" height="17.06" fill="#000"/>
<path d="M45.5,244.51V430.3H309.5" fill="none" stroke="#333" stroke-width="1"/>
<line x1="41.5" y1="430.30" x2="45.5" y2="430.30" stroke="#333" stroke-width="0.9"/>
<text transform="translate(38.6,433.50) scale(1,1.06)" text-anchor="end" font-size="9.7">0</text>
<line x1="43.0" y1="413.41" x2="45.5" y2="413.41" stroke="#333" stroke-width="0.9"/>
<line x1="41.5" y1="396.52" x2="45.5" y2="396.52" stroke="#333" stroke-width="0.9"/>
<text transform="translate(38.6,399.72) scale(1,1.06)" text-anchor="end" font-size="9.7">20</text>
<line x1="43.0" y1="379.63" x2="45.5" y2="379.63" stroke="#333" stroke-width="0.9"/>
<line x1="41.5" y1="362.74" x2="45.5" y2="362.74" stroke="#333" stroke-width="0.9"/>
<text transform="translate(38.6,365.94) scale(1,1.06)" text-anchor="end" font-size="9.7">40</text>
<line x1="43.0" y1="345.85" x2="45.5" y2="345.85" stroke="#333" stroke-width="0.9"/>
<line x1="41.5" y1="328.96" x2="45.5" y2="328.96" stroke="#333" stroke-width="0.9"/>
<text transform="translate(38.6,332.16) scale(1,1.06)" text-anchor="end" font-size="9.7">60</text>
<line x1="43.0" y1="312.07" x2="45.5" y2="312.07" stroke="#333" stroke-width="0.9"/>
<line x1="41.5" y1="295.18" x2="45.5" y2="295.18" stroke="#333" stroke-width="0.9"/>
<text transform="translate(38.6,298.38) scale(1,1.06)" text-anchor="end" font-size="9.7">80</text>
<line x1="43.0" y1="278.29" x2="45.5" y2="278.29" stroke="#333" stroke-width="0.9"/>
<line x1="41.5" y1="261.40" x2="45.5" y2="261.40" stroke="#333" stroke-width="0.9"/>
<text transform="translate(38.6,264.60) scale(1,1.06)" text-anchor="end" font-size="9.7">100</text>
<line x1="43.0" y1="244.51" x2="45.5" y2="244.51" stroke="#333" stroke-width="0.9"/>
<line x1="51.24" y1="430.3" x2="51.24" y2="432.3" stroke="#333" stroke-width="0.9"/>
<line x1="62.72" y1="430.3" x2="62.72" y2="432.3" stroke="#333" stroke-width="0.9"/>
<line x1="74.20" y1="430.3" x2="74.20" y2="432.3" stroke="#333" stroke-width="0.9"/>
<line x1="85.67" y1="430.3" x2="85.67" y2="433.8" stroke="#333" stroke-width="0.9"/>
<text transform="translate(85.67,444.7) scale(1,1.0)" text-anchor="middle" font-size="9.6">1995</text>
<line x1="97.15" y1="430.3" x2="97.15" y2="432.3" stroke="#333" stroke-width="0.9"/>
<line x1="108.63" y1="430.3" x2="108.63" y2="432.3" stroke="#333" stroke-width="0.9"/>
<line x1="120.11" y1="430.3" x2="120.11" y2="432.3" stroke="#333" stroke-width="0.9"/>
<line x1="131.59" y1="430.3" x2="131.59" y2="432.3" stroke="#333" stroke-width="0.9"/>
<line x1="143.07" y1="430.3" x2="143.07" y2="433.8" stroke="#333" stroke-width="0.9"/>
<text transform="translate(143.07,444.7) scale(1,1.0)" text-anchor="middle" font-size="9.6">2000</text>
<line x1="154.54" y1="430.3" x2="154.54" y2="432.3" stroke="#333" stroke-width="0.9"/>
<line x1="166.02" y1="430.3" x2="166.02" y2="432.3" stroke="#333" stroke-width="0.9"/>
<line x1="177.50" y1="430.3" x2="177.50" y2="432.3" stroke="#333" stroke-width="0.9"/>
<line x1="188.98" y1="430.3" x2="188.98" y2="432.3" stroke="#333" stroke-width="0.9"/>
<line x1="200.46" y1="430.3" x2="200.46" y2="433.8" stroke="#333" stroke-width="0.9"/>
<text transform="translate(200.46,444.7) scale(1,1.0)" text-anchor="middle" font-size="9.6">2005</text>
<line x1="211.93" y1="430.3" x2="211.93" y2="432.3" stroke="#333" stroke-width="0.9"/>
<line x1="223.41" y1="430.3" x2="223.41" y2="432.3" stroke="#333" stroke-width="0.9"/>
<line x1="234.89" y1="430.3" x2="234.89" y2="432.3" stroke="#333" stroke-width="0.9"/>
<line x1="246.37" y1="430.3" x2="246.37" y2="432.3" stroke="#333" stroke-width="0.9"/>
<line x1="257.85" y1="430.3" x2="257.85" y2="433.8" stroke="#333" stroke-width="0.9"/>
<text transform="translate(257.85,444.7) scale(1,1.0)" text-anchor="middle" font-size="9.6">2010</text>
<line x1="269.33" y1="430.3" x2="269.33" y2="432.3" stroke="#333" stroke-width="0.9"/>
<line x1="280.80" y1="430.3" x2="280.80" y2="432.3" stroke="#333" stroke-width="0.9"/>
<line x1="292.28" y1="430.3" x2="292.28" y2="432.3" stroke="#333" stroke-width="0.9"/>
<line x1="303.76" y1="430.3" x2="303.76" y2="432.3" stroke="#333" stroke-width="0.9"/>
<text x="178.0" y="464.7" text-anchor="middle" font-size="13.8">Year</text>
<text x="49.9" y="254.2" font-size="13.4">(C)</text>
<text transform="translate(13.4,346.5) rotate(-90)" text-anchor="middle" font-size="13.8">Percent of acres restored in China</text>
<rect x="363.59" y="261.40" width="9.5" height="168.90" fill="#000"/>
<rect x="386.55" y="261.40" width="9.50" height="42.06" fill="#cacaca"/><path d="M386.55,271.40L396.05,261.90M386.55,282.25L396.05,272.75M386.55,293.10L396.05,283.60M387.04,303.46L396.05,294.45" stroke="#666" stroke-width="0.5" fill="none"/><rect x="386.90" y="261.75" width="8.80" height="41.36" fill="none" stroke="#404040" stroke-width="0.75"/>
<rect x="386.90" y="303.81" width="8.80" height="41.69" fill="#808080" stroke="#383838" stroke-width="0.75"/>
<rect x="386.55" y="345.85" width="9.5" height="84.45" fill="#000"/>
<rect x="398.02" y="261.40" width="9.50" height="13.85" fill="#cacaca"/><path d="M398.02,271.40L407.52,261.90M405.02,275.25L407.52,272.75" stroke="#666" stroke-width="0.5" fill="none"/><rect x="398.37" y="261.75" width="8.80" height="13.15" fill="none" stroke="#404040" stroke-width="0.75"/>
<rect x="398.37" y="275.60" width="8.80" height="83.92" fill="#808080" stroke="#383838" stroke-width="0.75"/>
<rect x="398.02" y="359.87" width="9.5" height="70.43" fill="#000"/>
<rect x="409.50" y="261.40" width="9.50" height="27.87" fill="#cacaca"/><path d="M409.50,271.40L419.00,261.90M409.50,282.25L419.00,272.75M413.33,289.27L419.00,283.60" stroke="#666" stroke-width="0.5" fill="none"/><rect x="409.85" y="261.75" width="8.80" height="27.17" fill="none" stroke="#404040" stroke-width="0.75"/>
<rect x="409.85" y="289.62" width="8.80" height="84.09" fill="#808080" stroke="#383838" stroke-width="0.75"/>
<rect x="409.50" y="374.06" width="9.5" height="56.24" fill="#000"/>
<rect x="421.33" y="261.75" width="8.80" height="93.88" fill="#808080" stroke="#383838" stroke-width="0.75"/>
<rect x="420.98" y="355.98" width="9.5" height="74.32" fill="#000"/>
<rect x="432.46" y="261.40" width="9.50" height="3.72" fill="#cacaca"/><path d="M438.74,265.12L441.96,261.90" stroke="#666" stroke-width="0.5" fill="none"/><rect x="432.81" y="261.75" width="8.80" height="3.02" fill="none" stroke="#404040" stroke-width="0.75"/>
<rect x="432.81" y="265.47" width="8.80" height="39.84" fill="#808080" stroke="#383838" stroke-width="0.75"/>
<rect x="432.46" y="305.65" width="9.5" height="124.65" fill="#000"/>
<rect x="443.94" y="261.40" width="9.50" height="28.71" fill="#cacaca"/><path d="M443.94,271.40L453.44,261.90M443.94,282.25L453.44,272.75M446.92,290.11L453.44,283.60" stroke="#666" stroke-width="0.5" fill="none"/><rect x="444.29" y="261.75" width="8.80" height="28.01" fill="none" stroke="#404040" stroke-width="0.75"/>
<rect x="444.29" y="290.46" width="8.80" height="90.67" fill="#808080" stroke="#383838" stroke-width="0.75"/>
<rect x="443.94" y="381.49" width="9.5" height="48.81" fill="#000"/>
<rect x="455.42" y="261.40" width="9.50" height="9.63" fill="#cacaca"/><path d="M455.79,271.03L464.92,261.90" stroke="#666" stroke-width="0.5" fill="none"/><rect x="455.77" y="261.75" width="8.80" height="8.93" fill="none" stroke="#404040" stroke-width="0.75"/>
<rect x="455.77" y="271.38" width="8.80" height="61.29" fill="#808080" stroke="#383838" stroke-width="0.75"/>
<rect x="455.42" y="333.01" width="9.5" height="97.29" fill="#000"/>
<rect x="466.89" y="261.40" width="9.50" height="15.03" fill="#cacaca"/><path d="M466.89,271.40L476.39,261.90M472.71,276.43L476.39,272.75" stroke="#666" stroke-width="0.5" fill="none"/><rect x="467.24" y="261.75" width="8.80" height="14.33" fill="none" stroke="#404040" stroke-width="0.75"/>
<rect x="467.24" y="276.78" width="8.80" height="72.43" fill="#808080" stroke="#383838" stroke-width="0.75"/>
<rect x="466.89" y="349.57" width="9.5" height="80.73" fill="#000"/>
<rect x="478.37" y="261.40" width="9.50" height="26.86" fill="#cacaca"/><path d="M478.37,271.40L487.87,261.90M478.37,282.25L487.87,272.75M483.22,288.26L487.87,283.60" stroke="#666" stroke-width="0.5" fill="none"/><rect x="478.72" y="261.75" width="8.80" height="26.16" fill="none" stroke="#404040" stroke-width="0.75"/>
<rect x="478.72" y="288.61" width="8.80" height="58.92" fill="#808080" stroke="#383838" stroke-width="0.75"/>
<rect x="478.37" y="347.88" width="9.5" height="82.42" fill="#000"/>
<rect x="489.85" y="261.40" width="9.50" height="48.64" fill="#cacaca"/><path d="M489.85,271.40L499.35,261.90M489.85,282.25L499.35,272.75M489.85,293.10L499.35,283.60M489.85,303.95L499.35,294.45M494.61,310.04L499.35,305.30" stroke="#666" stroke-width="0.5" fill="none"/><rect x="490.20" y="261.75" width="8.80" height="47.94" fill="none" stroke="#404040" stroke-width="0.75"/>
<rect x="490.20" y="310.39" width="8.80" height="32.40" fill="#808080" stroke="#383838" stroke-width="0.75"/>
<rect x="489.85" y="343.15" width="9.5" height="87.15" fill="#000"/>
<rect x="501.33" y="261.40" width="9.50" height="51.51" fill="#cacaca"/><path d="M501.33,271.40L510.83,261.90M501.33,282.25L510.83,272.75M501.33,293.10L510.83,283.60M501.33,303.95L510.83,294.45M503.21,312.91L510.83,305.30" stroke="#666" stroke-width="0.5" fill="none"/><rect x="501.68" y="261.75" width="8.80" height="50.81" fill="none" stroke="#404040" stroke-width="0.75"/>
<rect x="501.68" y="313.26" width="8.80" height="24.30" fill="#808080" stroke="#383838" stroke-width="0.75"/>
<rect x="501.33" y="337.91" width="9.5" height="92.39" fill="#000"/>
<rect x="512.81" y="261.40" width="9.50" height="45.77" fill="#cacaca"/><path d="M512.81,271.40L522.31,261.90M512.81,282.25L522.31,272.75M512.81,293.10L522.31,283.60M512.81,303.95L522.31,294.45M520.43,307.17L522.31,305.30" stroke="#666" stroke-width="0.5" fill="none"/><rect x="513.16" y="261.75" width="8.80" height="45.07" fill="none" stroke="#404040" stroke-width="0.75"/>
<rect x="513.16" y="307.52" width="8.80" height="19.40" fill="#808080" stroke="#383838" stroke-width="0.75"/>
<rect x="512.81" y="327.27" width="9.5" height="103.03" fill="#000"/>
<rect x="524.28" y="261.40" width="9.50" height="47.63" fill="#cacaca"/><path d="M524.28,271.40L533.78,261.90M524.28,282.25L533.78,272.75M524.28,293.10L533.78,283.60M524.28,303.95L533.78,294.45M530.05,309.03L533.78,305.30" stroke="#666" stroke-width="0.5" fill="none"/><rect x="524.63" y="261.75" width="8.80" height="46.93" fill="none" stroke="#404040" stroke-width="0.75"/>
<rect x="524.63" y="309.38" width="8.80" height="29.87" fill="#808080" stroke="#383838" stroke-width="0.75"/>
<rect x="524.28" y="339.60" width="9.5" height="90.70" fill="#000"/>
<rect x="535.76" y="261.40" width="9.50" height="27.87" fill="#cacaca"/><path d="M535.76,271.40L545.26,261.90M535.76,282.25L545.26,272.75M539.59,289.27L545.26,283.60" stroke="#666" stroke-width="0.5" fill="none"/><rect x="536.11" y="261.75" width="8.80" height="27.17" fill="none" stroke="#404040" stroke-width="0.75"/>
<rect x="536.11" y="289.62" width="8.80" height="76.83" fill="#808080" stroke="#383838" stroke-width="0.75"/>
<rect x="535.76" y="366.79" width="9.5" height="63.51" fill="#000"/>
<rect x="547.24" y="261.40" width="9.50" height="34.96" fill="#cacaca"/><path d="M547.24,271.40L556.74,261.90M547.24,282.25L556.74,272.75M547.24,293.10L556.74,283.60M554.83,296.36L556.74,294.45" stroke="#666" stroke-width="0.5" fill="none"/><rect x="547.59" y="261.75" width="8.80" height="34.26" fill="none" stroke="#404040" stroke-width="0.75"/>
<rect x="547.59" y="296.71" width="8.80" height="63.65" fill="#808080" stroke="#383838" stroke-width="0.75"/>
<rect x="547.24" y="360.71" width="9.5" height="69.59" fill="#000"/>
<rect x="558.72" y="261.40" width="9.50" height="21.79" fill="#cacaca"/><path d="M558.72,271.40L568.22,261.90M558.72,282.25L568.22,272.75" stroke="#666" stroke-width="0.5" fill="none"/><rect x="559.07" y="261.75" width="8.80" height="21.09" fill="none" stroke="#404040" stroke-width="0.75"/>
<rect x="559.07" y="283.54" width="8.80" height="87.80" fill="#808080" stroke="#383838" stroke-width="0.75"/>
<rect x="558.72" y="371.69" width="9.5" height="58.61" fill="#000"/>
<rect x="570.20" y="261.40" width="9.50" height="21.79" fill="#cacaca"/><path d="M570.20,271.40L579.70,261.90M570.20,282.25L579.70,272.75" stroke="#666" stroke-width="0.5" fill="none"/><rect x="570.55" y="261.75" width="8.80" height="21.09" fill="none" stroke="#404040" stroke-width="0.75"/>
<rect x="570.55" y="283.54" width="8.80" height="52.17" fill="#808080" stroke="#383838" stroke-width="0.75"/>
<rect x="570.20" y="336.05" width="9.5" height="94.25" fill="#000"/>
<rect x="581.68" y="261.40" width="9.50" height="21.79" fill="#cacaca"/><path d="M581.68,271.40L591.18,261.90M581.68,282.25L591.18,272.75" stroke="#666" stroke-width="0.5" fill="none"/><rect x="582.03" y="261.75" width="8.80" height="21.09" fill="none" stroke="#404040" stroke-width="0.75"/>
<rect x="582.03" y="283.54" width="8.80" height="76.83" fill="#808080" stroke="#383838" stroke-width="0.75"/>
<rect x="581.68" y="360.71" width="9.5" height="69.59" fill="#000"/>
<rect x="593.15" y="261.40" width="9.50" height="15.20" fill="#cacaca"/><path d="M593.15,271.40L602.65,261.90M598.80,276.60L602.65,272.75" stroke="#666" stroke-width="0.5" fill="none"/><rect x="593.50" y="261.75" width="8.80" height="14.50" fill="none" stroke="#404040" stroke-width="0.75"/>
<rect x="593.50" y="276.95" width="8.80" height="70.58" fill="#808080" stroke="#383838" stroke-width="0.75"/>
<rect x="593.15" y="347.88" width="9.5" height="82.42" fill="#000"/>
<rect x="604.63" y="261.40" width="9.50" height="16.21" fill="#cacaca"/><path d="M604.63,271.40L614.13,261.90M609.27,277.61L614.13,272.75" stroke="#666" stroke-width="0.5" fill="none"/><rect x="604.98" y="261.75" width="8.80" height="15.51" fill="none" stroke="#404040" stroke-width="0.75"/>
<rect x="604.98" y="277.96" width="8.80" height="67.54" fill="#808080" stroke="#383838" stroke-width="0.75"/>
<rect x="604.63" y="345.85" width="9.5" height="84.45" fill="#000"/>
<rect x="616.11" y="261.40" width="9.50" height="55.74" fill="#cacaca"/><path d="M616.11,271.40L625.61,261.90M616.11,282.25L625.61,272.75M616.11,293.10L625.61,283.60M616.11,303.95L625.61,294.45M616.11,314.80L625.61,305.30M624.62,317.14L625.61,316.15" stroke="#666" stroke-width="0.5" fill="none"/><rect x="616.46" y="261.75" width="8.80" height="55.04" fill="none" stroke="#404040" stroke-width="0.75"/>
<rect x="616.46" y="317.49" width="8.80" height="56.22" fill="#808080" stroke="#383838" stroke-width="0.75"/>
<rect x="616.11" y="374.06" width="9.5" height="56.24" fill="#000"/>
<path d="M362.6,244.51V430.3H626.6" fill="none" stroke="#333" stroke-width="1"/>
<line x1="358.6" y1="430.30" x2="362.6" y2="430.30" stroke="#333" stroke-width="0.9"/>
<text transform="translate(355.3,433.50) scale(1,1.06)" text-anchor="end" font-size="9.7">0</text>
<line x1="360.1" y1="413.41" x2="362.6" y2="413.41" stroke="#333" stroke-width="0.9"/>
<line x1="358.6" y1="396.52" x2="362.6" y2="396.52" stroke="#333" stroke-width="0.9"/>
<text transform="translate(355.3,399.72) scale(1,1.06)" text-anchor="end" font-size="9.7">20</text>
<line x1="360.1" y1="379.63" x2="362.6" y2="379.63" stroke="#333" stroke-width="0.9"/>
<line x1="358.6" y1="362.74" x2="362.6" y2="362.74" stroke="#333" stroke-width="0.9"/>
<text transform="translate(355.3,365.94) scale(1,1.06)" text-anchor="end" font-size="9.7">40</text>
<line x1="360.1" y1="345.85" x2="362.6" y2="345.85" stroke="#333" stroke-width="0.9"/>
<line x1="358.6" y1="328.96" x2="362.6" y2="328.96" stroke="#333" stroke-width="0.9"/>
<text transform="translate(355.3,332.16) scale(1,1.06)" text-anchor="end" font-size="9.7">60</text>
<line x1="360.1" y1="312.07" x2="362.6" y2="312.07" stroke="#333" stroke-width="0.9"/>
<line x1="358.6" y1="295.18" x2="362.6" y2="295.18" stroke="#333" stroke-width="0.9"/>
<text transform="translate(355.3,298.38) scale(1,1.06)" text-anchor="end" font-size="9.7">80</text>
<line x1="360.1" y1="278.29" x2="362.6" y2="278.29" stroke="#333" stroke-width="0.9"/>
<line x1="358.6" y1="261.40" x2="362.6" y2="261.40" stroke="#333" stroke-width="0.9"/>
<text transform="translate(355.3,264.60) scale(1,1.06)" text-anchor="end" font-size="9.7">100</text>
<line x1="360.1" y1="244.51" x2="362.6" y2="244.51" stroke="#333" stroke-width="0.9"/>
<line x1="368.34" y1="430.3" x2="368.34" y2="432.3" stroke="#333" stroke-width="0.9"/>
<line x1="379.82" y1="430.3" x2="379.82" y2="432.3" stroke="#333" stroke-width="0.9"/>
<line x1="391.30" y1="430.3" x2="391.30" y2="432.3" stroke="#333" stroke-width="0.9"/>
<line x1="402.77" y1="430.3" x2="402.77" y2="433.8" stroke="#333" stroke-width="0.9"/>
<text transform="translate(402.77,444.7) scale(1,1.0)" text-anchor="middle" font-size="9.6">1995</text>
<line x1="414.25" y1="430.3" x2="414.25" y2="432.3" stroke="#333" stroke-width="0.9"/>
<line x1="425.73" y1="430.3" x2="425.73" y2="432.3" stroke="#333" stroke-width="0.9"/>
<line x1="437.21" y1="430.3" x2="437.21" y2="432.3" stroke="#333" stroke-width="0.9"/>
<line x1="448.69" y1="430.3" x2="448.69" y2="432.3" stroke="#333" stroke-width="0.9"/>
<line x1="460.17" y1="430.3" x2="460.17" y2="433.8" stroke="#333" stroke-width="0.9"/>
<text transform="translate(460.17,444.7) scale(1,1.0)" text-anchor="middle" font-size="9.6">2000</text>
<line x1="471.64" y1="430.3" x2="471.64" y2="432.3" stroke="#333" stroke-width="0.9"/>
<line x1="483.12" y1="430.3" x2="483.12" y2="432.3" stroke="#333" stroke-width="0.9"/>
<line x1="494.60" y1="430.3" x2="494.60" y2="432.3" stroke="#333" stroke-width="0.9"/>
<line x1="506.08" y1="430.3" x2="506.08" y2="432.3" stroke="#333" stroke-width="0.9"/>
<line x1="517.56" y1="430.3" x2="517.56" y2="433.8" stroke="#333" stroke-width="0.9"/>
<text transform="translate(517.56,444.7) scale(1,1.0)" text-anchor="middle" font-size="9.6">2005</text>
<line x1="529.03" y1="430.3" x2="529.03" y2="432.3" stroke="#333" stroke-width="0.9"/>
<line x1="540.51" y1="430.3" x2="540.51" y2="432.3" stroke="#333" stroke-width="0.9"/>
<line x1="551.99" y1="430.3" x2="551.99" y2="432.3" stroke="#333" stroke-width="0.9"/>
<line x1="563.47" y1="430.3" x2="563.47" y2="432.3" stroke="#333" stroke-width="0.9"/>
<line x1="574.95" y1="430.3" x2="574.95" y2="433.8" stroke="#333" stroke-width="0.9"/>
<text transform="translate(574.95,444.7) scale(1,1.0)" text-anchor="middle" font-size="9.6">2010</text>
<line x1="586.43" y1="430.3" x2="586.43" y2="432.3" stroke="#333" stroke-width="0.9"/>
<line x1="597.90" y1="430.3" x2="597.90" y2="432.3" stroke="#333" stroke-width="0.9"/>
<line x1="609.38" y1="430.3" x2="609.38" y2="432.3" stroke="#333" stroke-width="0.9"/>
<line x1="620.86" y1="430.3" x2="620.86" y2="432.3" stroke="#333" stroke-width="0.9"/>
<text x="494.7" y="464.7" text-anchor="middle" font-size="13.8">Year</text>
<text x="367.0" y="254.2" font-size="13.4">(D)</text>
<text transform="translate(336.0,346.0) rotate(-90)" text-anchor="middle" font-size="13.8">Percent of acres restored in USA</text>
<rect x="579.80" y="222.50" width="22.20" height="10.80" fill="#cacaca"/><path d="M579.80,232.50L589.80,222.50M589.85,233.30L600.65,222.50M600.70,233.30L602.00,232.00" stroke="#666" stroke-width="0.5" fill="none"/><rect x="580.15" y="222.85" width="21.50" height="10.10" fill="none" stroke="#404040" stroke-width="0.75"/>
<rect x="579.8" y="234.8" width="22.2" height="10.6" fill="#808080" stroke="#383838" stroke-width="0.75"/>
<rect x="579.8" y="247.0" width="22.2" height="10.8" fill="#000"/>
<text x="605" y="231.4" font-size="9.7">Upland</text>
<text x="605" y="243.5" font-size="9.7">Submerged</text>
<text x="605" y="255.6" font-size="9.7">Wetland</text>
</svg></body></html>
